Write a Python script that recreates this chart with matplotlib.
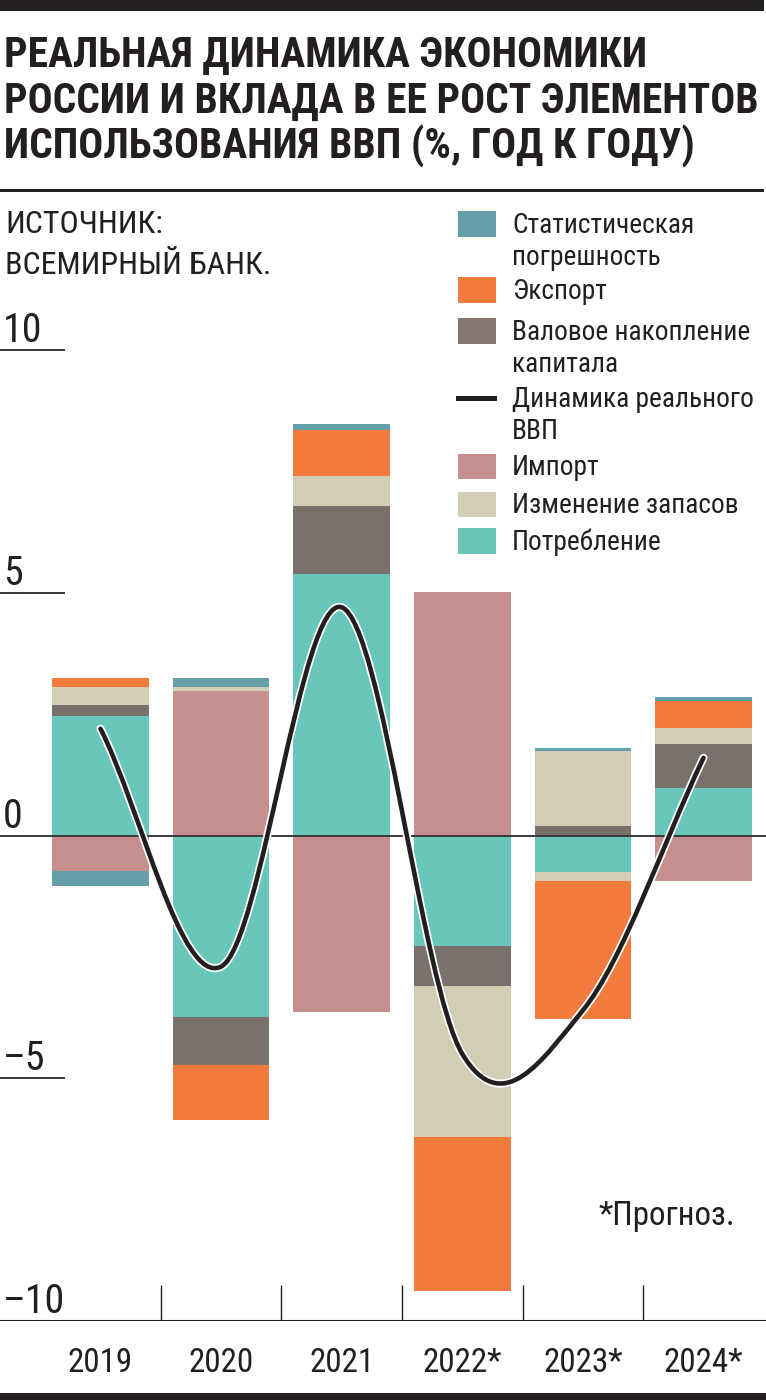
import numpy as np
import matplotlib
matplotlib.use("Agg")
import matplotlib.pyplot as plt
from matplotlib import font_manager
from matplotlib.path import Path
from matplotlib.patches import PathPatch, Rectangle
import matplotlib.patheffects as pe

# узкий шрифт, если есть
names = {f.name for f in font_manager.fontManager.ttflist}
narrow = [n for n in ['Liberation Sans Narrow', 'DejaVu Sans Condensed', 'Roboto Condensed',
                      'Open Sans Condensed', 'Roboto', 'Liberation Sans'] if n in names]
plt.rcParams['font.family'] = narrow[:1] + ['DejaVu Sans']

# Данные (вклад в рост ВВП, п.п.)
years = ['2019', '2020', '2021', '2022*', '2023*', '2024*']
consumption = [2.47, -3.73, 5.38, -2.27, -0.76, 0.97]
imports = [-0.74, 2.97, -3.63, 5.01, 0.0, -0.94]
capital = [0.21, -0.99, 1.40, -0.82, 0.19, 0.91]
stocks = [0.37, 0.08, 0.62, -3.13, 1.55, 0.33]
stocks_extra = [0.0, 0.0, 0.0, 0.0, -0.17, 0.0]
export = [0.19, -1.15, 0.95, -3.16, -2.85, 0.57]
stat_error = [-0.30, 0.19, 0.12, 0.0, 0.06, 0.07]
gdp = [2.2, -2.7, 4.7, -4.5, -3.6, 1.6]

c_cons = '#69c6ba'
c_imp = '#c78e8f'
c_cap = '#7b716c'
c_stock = '#d2ceb5'
c_exp = '#f47b3e'
c_stat = '#649faa'
dark = '#231f20'

W, H = 766, 1400
fig = plt.figure(figsize=(W / 100, H / 100), dpi=100)
renderer = fig.canvas.get_renderer()


def fit(texts, width, size):
    # подогнать размер шрифта под ширину самой длинной строки
    for t in texts:
        t.set_fontsize(size)
    w = max(t.get_window_extent(renderer).width for t in texts)
    s = min(size, size * width / w)
    for t in texts:
        t.set_fontsize(s)


px_unit = 48.55
cat_w = 120.6
x0 = 100.5
ax = fig.add_axes([0, (H - 1321) / H, 1, (1321 - 300) / H])
xl = (-x0 / cat_w, (W - x0) / cat_w)
ax.set_xlim(*xl)
ax.set_ylim(-10, -10 + (1321 - 300) / px_unit)
ax.axis('off')

x = np.arange(len(years))
series = [(consumption, c_cons), (imports, c_imp), (capital, c_cap),
          (stocks, c_stock), (stocks_extra, c_stock), (export, c_exp),
          (stat_error, c_stat)]
pos = np.zeros(len(years))
neg = np.zeros(len(years))
for vals, col in series:
    v = np.array(vals)
    bottom = np.where(v >= 0, pos, neg)
    ax.bar(x, v, bottom=bottom, width=0.8, color=col, linewidth=0, zorder=2)
    pos = pos + np.where(v > 0, v, 0)
    neg = neg + np.where(v < 0, v, 0)

ax.axhline(0, color='#3a3a3a', lw=1.4, zorder=3)
ax.hlines([10, 5, -5], xl[0], xl[0] + 65 / cat_w, color='#3a3a3a', lw=1.4)
ax.axhline(-10, color=dark, lw=2.2, zorder=3)
ax.vlines(x[:-1] + 0.5, -10, -10 + 36 / px_unit, color=dark, lw=1)

ylabs = []
for val, lab in zip([10, 5, 0, -5, -10], ['10', '5', '0', '–5', '–10']):
    ylabs.append(ax.text(xl[0] + 3 / cat_w, val + 8 / px_unit, lab,
                         color=dark, va='baseline', ha='left'))
fit(ylabs, 62, 31)

xlabs = []
for i, lab in enumerate(years):
    xlabs.append(ax.text(i, -10 - 51 / px_unit, lab, color=dark,
                         ha='center', va='baseline', clip_on=False))
fit(xlabs, 80, 32)

# линия ВВП: сглаженная кривая через значения
pts = np.column_stack([x, gdp]).astype(float)
n = len(pts)
tang = np.zeros_like(pts)
tang[0] = pts[1] - pts[0]
tang[-1] = pts[-1] - pts[-2]
tang[1:-1] = (pts[2:] - pts[:-2]) / 2
verts = [pts[0]]
codes = [Path.MOVETO]
for i in range(n - 1):
    verts += [pts[i] + tang[i] / 3, pts[i + 1] - tang[i + 1] / 3, pts[i + 1]]
    codes += [Path.CURVE4] * 3
curve = PathPatch(Path(verts, codes), facecolor='none', edgecolor=dark,
                  lw=3.3, capstyle='round', zorder=4,
                  path_effects=[pe.withStroke(linewidth=5.8, foreground='white')])
ax.add_patch(curve)

note = ax.text((735 - x0) / cat_w, -10 + (1321 - 1225) / px_unit, '*Прогноз.',
               color=dark, ha='right', va='baseline')
fit([note], 137, 30)


def fy(py):
    return 1 - py / H


fig.add_artist(Rectangle((0, fy(11)), 764 / W, 11 / H, transform=fig.transFigure,
                         color=dark, lw=0))
fig.add_artist(Rectangle((0, fy(192)), 764 / W, 3.5 / H, transform=fig.transFigure,
                         color=dark, lw=0))
fig.add_artist(Rectangle((0, 0), 1, 7 / H, transform=fig.transFigure,
                         color=dark, lw=0))

title = ['РЕАЛЬНАЯ ДИНАМИКА ЭКОНОМИКИ',
         'РОССИИ И ВКЛАДА В ЕЕ РОСТ ЭЛЕМЕНТОВ',
         'ИСПОЛЬЗОВАНИЯ ВВП (%, ГОД К ГОДУ)']
ttl = [fig.text(4 / W, fy(67 + 46 * k), line, fontweight='bold',
                color=dark, va='baseline', ha='left') for k, line in enumerate(title)]
fit(ttl, 756, 34)

src = [fig.text(5 / W, fy(233), 'ИСТОЧНИК:', color=dark, va='baseline'),
       fig.text(5 / W, fy(274), 'ВСЕМИРНЫЙ БАНК.', color=dark, va='baseline')]
fit(src, 266, 25)

legend_items = [
    ('box', c_stat, ['Статистическая', 'погрешность'], 224),
    ('box', c_exp, ['Экспорт'], 290),
    ('box', '#877572', ['Валовое накопление', 'капитала'], 331),
    ('line', dark, ['Динамика реального', 'ВВП'], 398),
    ('box', c_imp, ['Импорт'], 466),
    ('box', c_stock, ['Изменение запасов'], 504),
    ('box', c_cons, ['Потребление'], 541),
]
leg_texts = []
for kind, col, lines, cy in legend_items:
    if kind == 'box':
        fig.add_artist(Rectangle((458 / W, fy(cy + 12.5)), 38 / W, 25 / H,
                                 transform=fig.transFigure, color=col, lw=0))
    else:
        fig.add_artist(Rectangle((456 / W, fy(cy + 2.5)), 41 / W, 5 / H,
                                 transform=fig.transFigure, color=col, lw=0))
    for j, t in enumerate(lines):
        leg_texts.append(fig.text(512 / W, fy(cy + 9 + 32 * j), t, color=dark,
                                  va='baseline', ha='left'))
fit(leg_texts, 242, 21)

fig.savefig('out.png', dpi=100)
